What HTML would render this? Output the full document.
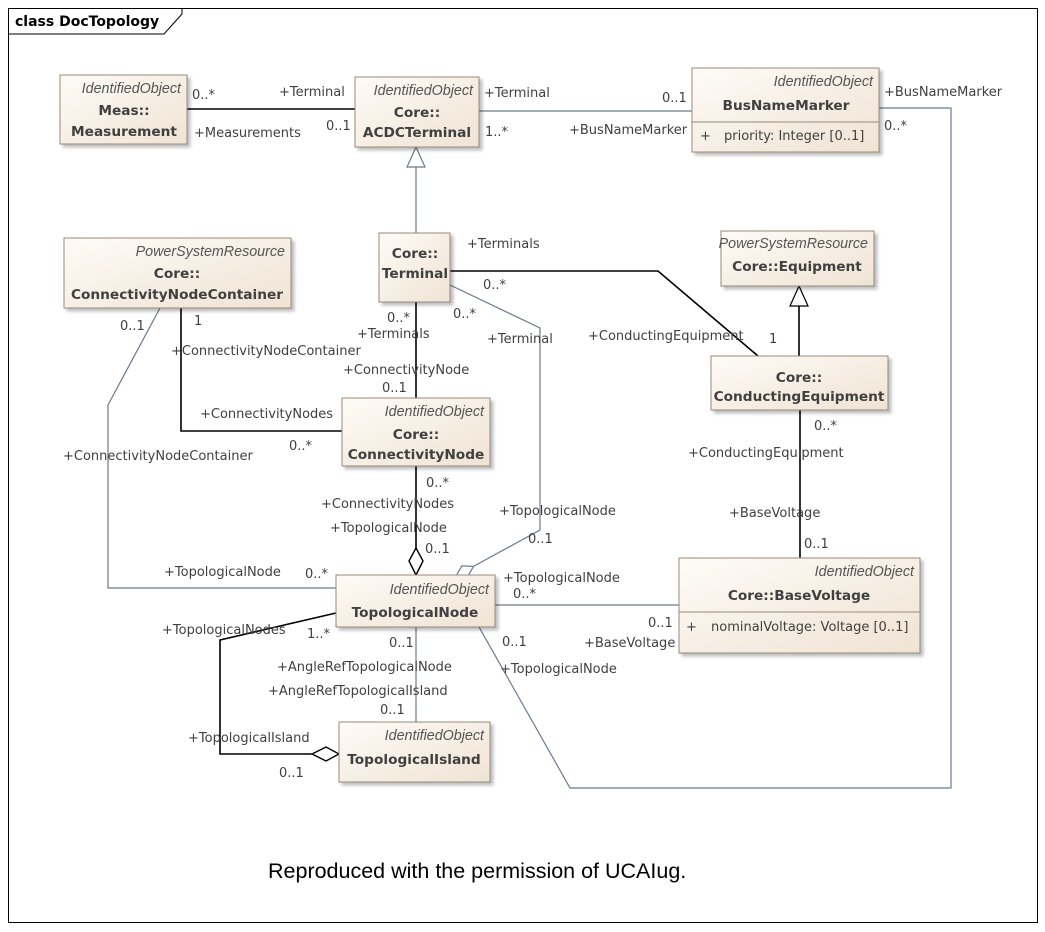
<!DOCTYPE html>
<html><head><meta charset="utf-8"><style>
html,body{margin:0;padding:0;background:#fff;}
svg{display:block;font-family:"DejaVu Sans","Liberation Sans",sans-serif;}
.t{font-size:13px;fill:#404040;}
.s{font-size:14.3px;fill:#555;font-style:italic;font-family:"Liberation Sans",sans-serif;}
.b{font-size:13.7px;fill:#404040;font-weight:bold;}
.box{fill:url(#g);stroke:#9a8a7a;stroke-width:1;filter:url(#sh);}
.k{stroke:#000;stroke-width:1.6;fill:none;}
.gl{stroke:#6a7a8f;stroke-width:1.2;fill:none;}
</style></head><body>
<svg width="1045" height="932" viewBox="0 0 1045 932">
<defs>
<linearGradient id="g" x1="0" y1="0" x2="1" y2="1"><stop offset="0" stop-color="#fefbf7"/><stop offset="1" stop-color="#efe3d3"/></linearGradient>
<filter id="sh" x="-10%" y="-10%" width="130%" height="130%"><feDropShadow dx="3" dy="3" stdDeviation="1.5" flood-color="#000" flood-opacity="0.25"/></filter>
</defs>
<rect x="8.5" y="8.5" width="1029" height="914" fill="#fff" stroke="#000"/>
<polyline points="8.5,34 164,34 182,14 182,8.5" fill="none" stroke="#000"/>
<text x="15" y="26" style="font-size:14px;font-weight:bold" fill="#000">class DocTopology</text>

<line class="k" x1="187" y1="109" x2="355" y2="109"/>
<line class="gl" x1="479" y1="111" x2="692" y2="111"/>
<polyline class="gl" points="879,108 951,108 951,788 570,788 479,627"/>
<line class="gl" x1="416" y1="167" x2="416" y2="233"/>
<polygon points="416,147 407,167 425,167" fill="#fff" stroke="#6a7a8f" stroke-width="1.2"/>
<polyline class="k" points="450,271 658,271 758,356"/>
<polyline class="gl" points="450,285 540,328 540,530 473.5,566.4"/>
<polygon points="456,576 461.9,565.9 473.5,566.4 467.7,576.5" fill="#fff" stroke="#6a7a8f" stroke-width="1.2"/>
<line class="k" x1="416" y1="302" x2="416" y2="398"/>
<polyline class="k" points="181,308 181,431 342,431"/>
<polyline class="gl" points="160,308 108,405 108,588 336,588"/>
<line class="k" x1="416" y1="466" x2="416" y2="548"/>
<polygon points="416,548 409,561 416,575 423,561" fill="#fff" stroke="#000" stroke-width="1.4"/>
<line class="k" x1="799" y1="306" x2="799" y2="356"/>
<polygon points="799,286 790,306 808,306" fill="#fff" stroke="#000" stroke-width="1.2"/>
<line class="k" x1="800" y1="410" x2="800" y2="558"/>
<line class="gl" x1="495" y1="605" x2="679" y2="605"/>
<line class="gl" x1="416" y1="627" x2="416" y2="722"/>
<polyline class="k" points="336,613 220,640 220,754 312,754"/>
<polygon points="339,754 326,747 312,754 326,761" fill="#fff" stroke="#000" stroke-width="1.4"/>

<rect class="box" x="60" y="75" width="127" height="69"/>
<text class="s" x="181" y="93" text-anchor="end">IdentifiedObject</text>
<text class="b" x="124" y="115" text-anchor="middle">Meas::</text>
<text class="b" x="124" y="136" text-anchor="middle">Measurement</text>

<rect class="box" x="355" y="77" width="124" height="70"/>
<text class="s" x="473" y="95" text-anchor="end">IdentifiedObject</text>
<text class="b" x="417" y="117" text-anchor="middle">Core::</text>
<text class="b" x="417" y="137" text-anchor="middle">ACDCTerminal</text>

<rect class="box" x="692" y="68" width="187" height="84"/>
<line x1="692" y1="122" x2="879" y2="122" stroke="#9a8a7a"/>
<text class="s" x="873" y="86" text-anchor="end">IdentifiedObject</text>
<text class="b" x="786" y="110" text-anchor="middle">BusNameMarker</text>
<text class="t" x="700" y="140">+</text><text class="t" x="724" y="140">priority: Integer [0..1]</text>

<rect class="box" x="64" y="238" width="227" height="70"/>
<text class="s" x="285" y="256" text-anchor="end">PowerSystemResource</text>
<text class="b" x="177" y="278" text-anchor="middle">Core::</text>
<text class="b" x="177" y="299" text-anchor="middle">ConnectivityNodeContainer</text>

<rect class="box" x="379" y="233" width="71" height="69"/>
<text class="b" x="415" y="258" text-anchor="middle">Core::</text>
<text class="b" x="415" y="278" text-anchor="middle">Terminal</text>

<rect class="box" x="721" y="231" width="153" height="55"/>
<text class="s" x="868" y="248" text-anchor="end">PowerSystemResource</text>
<text class="b" x="797" y="271" text-anchor="middle">Core::Equipment</text>

<rect class="box" x="711" y="356" width="177" height="54"/>
<text class="b" x="799" y="382" text-anchor="middle">Core::</text>
<text class="b" x="799" y="401" text-anchor="middle">ConductingEquipment</text>

<rect class="box" x="342" y="398" width="148" height="68"/>
<text class="s" x="484" y="416" text-anchor="end">IdentifiedObject</text>
<text class="b" x="416" y="439" text-anchor="middle">Core::</text>
<text class="b" x="416" y="459" text-anchor="middle">ConnectivityNode</text>

<rect class="box" x="336" y="575" width="159" height="52"/>
<text class="s" x="489" y="594" text-anchor="end">IdentifiedObject</text>
<text class="b" x="415" y="617" text-anchor="middle">TopologicalNode</text>

<rect class="box" x="679" y="558" width="241" height="95"/>
<line x1="679" y1="612" x2="920" y2="612" stroke="#9a8a7a"/>
<text class="s" x="914" y="576" text-anchor="end">IdentifiedObject</text>
<text class="b" x="799" y="600" text-anchor="middle">Core::BaseVoltage</text>
<text class="t" x="686" y="631">+</text><text class="t" x="711" y="631">nominalVoltage: Voltage [0..1]</text>

<rect class="box" x="339" y="722" width="151" height="60"/>
<text class="s" x="484" y="740" text-anchor="end">IdentifiedObject</text>
<text class="b" x="414" y="764" text-anchor="middle">TopologicalIsland</text>

<g class="t">
<text x="192" y="99">0..*</text>
<text x="279" y="96">+Terminal</text>
<text x="194" y="137">+Measurements</text>
<text x="326" y="130">0..1</text>
<text x="484" y="97">+Terminal</text>
<text x="485" y="136">1..*</text>
<text x="662" y="102">0..1</text>
<text x="569" y="134">+BusNameMarker</text>
<text x="884" y="96">+BusNameMarker</text>
<text x="884" y="130">0..*</text>
<text x="467" y="248">+Terminals</text>
<text x="483" y="289">0..*</text>
<text x="387" y="322">0..*</text>
<text x="453" y="318">0..*</text>
<text x="357" y="338">+Terminals</text>
<text x="487" y="343">+Terminal</text>
<text x="588" y="340">+ConductingEquipment</text>
<text x="769" y="343">1</text>
<text x="120" y="330">0..1</text>
<text x="194" y="325">1</text>
<text x="171" y="355">+ConnectivityNodeContainer</text>
<text x="343" y="374">+ConnectivityNode</text>
<text x="382" y="392">0..1</text>
<text x="200" y="418">+ConnectivityNodes</text>
<text x="289" y="450">0..*</text>
<text x="63" y="460">+ConnectivityNodeContainer</text>
<text x="814" y="430">0..*</text>
<text x="688" y="457">+ConductingEquipment</text>
<text x="426" y="487">0..*</text>
<text x="321" y="508">+ConnectivityNodes</text>
<text x="330" y="532">+TopologicalNode</text>
<text x="499" y="515">+TopologicalNode</text>
<text x="729" y="517">+BaseVoltage</text>
<text x="528" y="543">0..1</text>
<text x="425" y="553">0..1</text>
<text x="804" y="548">0..1</text>
<text x="164" y="576">+TopologicalNode</text>
<text x="305" y="578">0..*</text>
<text x="503" y="582">+TopologicalNode</text>
<text x="513" y="598">0..*</text>
<text x="162" y="634">+TopologicalNodes</text>
<text x="307" y="638">1..*</text>
<text x="648" y="627">0..1</text>
<text x="584" y="647">+BaseVoltage</text>
<text x="389" y="647">0..1</text>
<text x="502" y="646">0..1</text>
<text x="277" y="671">+AngleRefTopologicalNode</text>
<text x="500" y="673">+TopologicalNode</text>
<text x="268" y="695">+AngleRefTopologicalIsland</text>
<text x="380" y="714">0..1</text>
<text x="188" y="742">+TopologicalIsland</text>
<text x="279" y="777">0..1</text>
</g>
<text x="268" y="878" style="font-size:21.5px;font-family:'Liberation Sans',sans-serif" fill="#000">Reproduced with the permission of UCAIug.</text>
</svg>
</body></html>
